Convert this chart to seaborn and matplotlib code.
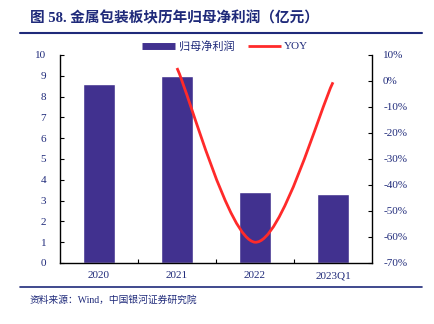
import numpy as np
import pandas as pd
import seaborn as sns
import matplotlib
matplotlib.use("Agg")
import matplotlib.pyplot as plt
from matplotlib.path import Path
from matplotlib.patches import PathPatch
from matplotlib.lines import Line2D
from matplotlib.ticker import FuncFormatter

# Data
periods = ["2020", "2021", "2022", "2023Q1"]
net_profit = [8.6, 9.0, 3.4, 3.3]          # 亿元
yoy = [None, 5.0, -62.0, -0.5]              # %

sns.set_theme(style="white")
MIXED = ["Liberation Serif", "Noto Sans CJK SC", "DejaVu Sans"]
plt.rcParams["font.family"] = MIXED

NAVY = "#1f2a7a"
BAR = "#41318f"
RED = "#ff2a2a"

fig = plt.figure(figsize=(4.34, 3.24), dpi=100)
W, H = 434, 324
ax = fig.add_axes([60 / W, 1 - 263 / H, (372 - 60) / W, (263 - 55) / H])

df = pd.DataFrame({"period": periods, "value": net_profit})
sns.barplot(data=df, x="period", y="value", color=BAR, saturation=1,
            width=0.4, ax=ax)
ax.set_xlim(-0.5, 3.5)
ax.set_ylim(0, 10)
ax.set_yticks(range(0, 11))
ax.set_xlabel("")
ax.set_ylabel("")
ax.set_xticks(range(4))
ax.set_xticklabels(periods)
ax.set_xticks([0.5, 1.5, 2.5], minor=True)
ax.tick_params(axis="x", which="major", length=0, pad=6, labelsize=8, labelcolor=NAVY)
ax.tick_params(axis="x", which="minor", direction="in", length=3, width=0.8, color="black", bottom=True)
ax.tick_params(axis="y", direction="in", length=3, width=0.8, color="black",
               labelsize=8, labelcolor=NAVY, left=True, pad=10)
for s in ["left", "bottom"]:
    ax.spines[s].set_color("black")
    ax.spines[s].set_linewidth(1.0)
ax.spines["top"].set_visible(False)
ax.spines["right"].set_visible(False)

# Secondary axis for YoY growth
ax2 = ax.twinx()
ax2.set_ylim(-70, 10)
ax2.set_yticks(range(-70, 11, 10))
ax2.yaxis.set_major_formatter(FuncFormatter(lambda v, p: f"{int(v)}%"))
ax2.tick_params(axis="y", direction="in", length=3, width=0.8, color="black",
                labelsize=8, labelcolor=NAVY, right=True, pad=8)
for s in ["top", "left", "bottom"]:
    ax2.spines[s].set_visible(False)
ax2.spines["right"].set_color("black")
ax2.spines["right"].set_linewidth(1.0)
ax2.grid(False)
ax.grid(False)

# Smoothed YoY line (cubic Bezier through the points)
pts = np.array([(i, v) for i, v in enumerate(yoy) if v is not None], dtype=float)
verts = [tuple(pts[0])]
codes = [Path.MOVETO]
n = len(pts)
for k in range(n - 1):
    p0 = pts[k - 1] if k > 0 else pts[k]
    p1, p2 = pts[k], pts[k + 1]
    p3 = pts[k + 2] if k + 2 < n else pts[k + 1]
    c1 = p1 + (p2 - p0) / 6.0
    c2 = p2 - (p3 - p1) / 6.0
    verts += [tuple(c1), tuple(c2), tuple(p2)]
    codes += [Path.CURVE4] * 3
ax2.add_patch(PathPatch(Path(verts, codes), facecolor="none", edgecolor=RED,
                        linewidth=2.0, capstyle="butt"))

# Legend above the plot
handles = [Line2D([0], [0], color=BAR, lw=5, solid_capstyle="butt"),
           Line2D([0], [0], color=RED, lw=2, solid_capstyle="butt")]
fig.legend(handles, ["归母净利润", "YOY"], loc="center left",
           bbox_to_anchor=(132 / W, 1 - 46 / H),
           ncol=2, frameon=False, handlelength=3.0, columnspacing=1.2,
           handletextpad=0.3, labelcolor=NAVY, prop={"family": MIXED, "size": 8})

# Title and source
fig.text(30 / W, 1 - 18 / H, "图 58. 金属包装板块历年归母净利润（亿元）", family=MIXED,
         fontsize=10.5, fontweight="bold", color=NAVY, va="center", ha="left")
fig.text(30 / W, 1 - 300 / H, "资料来源：Wind，中国银河证券研究院", family=MIXED,
         fontsize=7, color=NAVY, va="center", ha="left")
fig.add_artist(Line2D([20 / W, 422 / W], [1 - 33 / H, 1 - 33 / H], color=NAVY, lw=1.5))
fig.add_artist(Line2D([20 / W, 422 / W], [1 - 287 / H, 1 - 287 / H], color=NAVY, lw=1.2))

fig.savefig("out.png", dpi=100)
